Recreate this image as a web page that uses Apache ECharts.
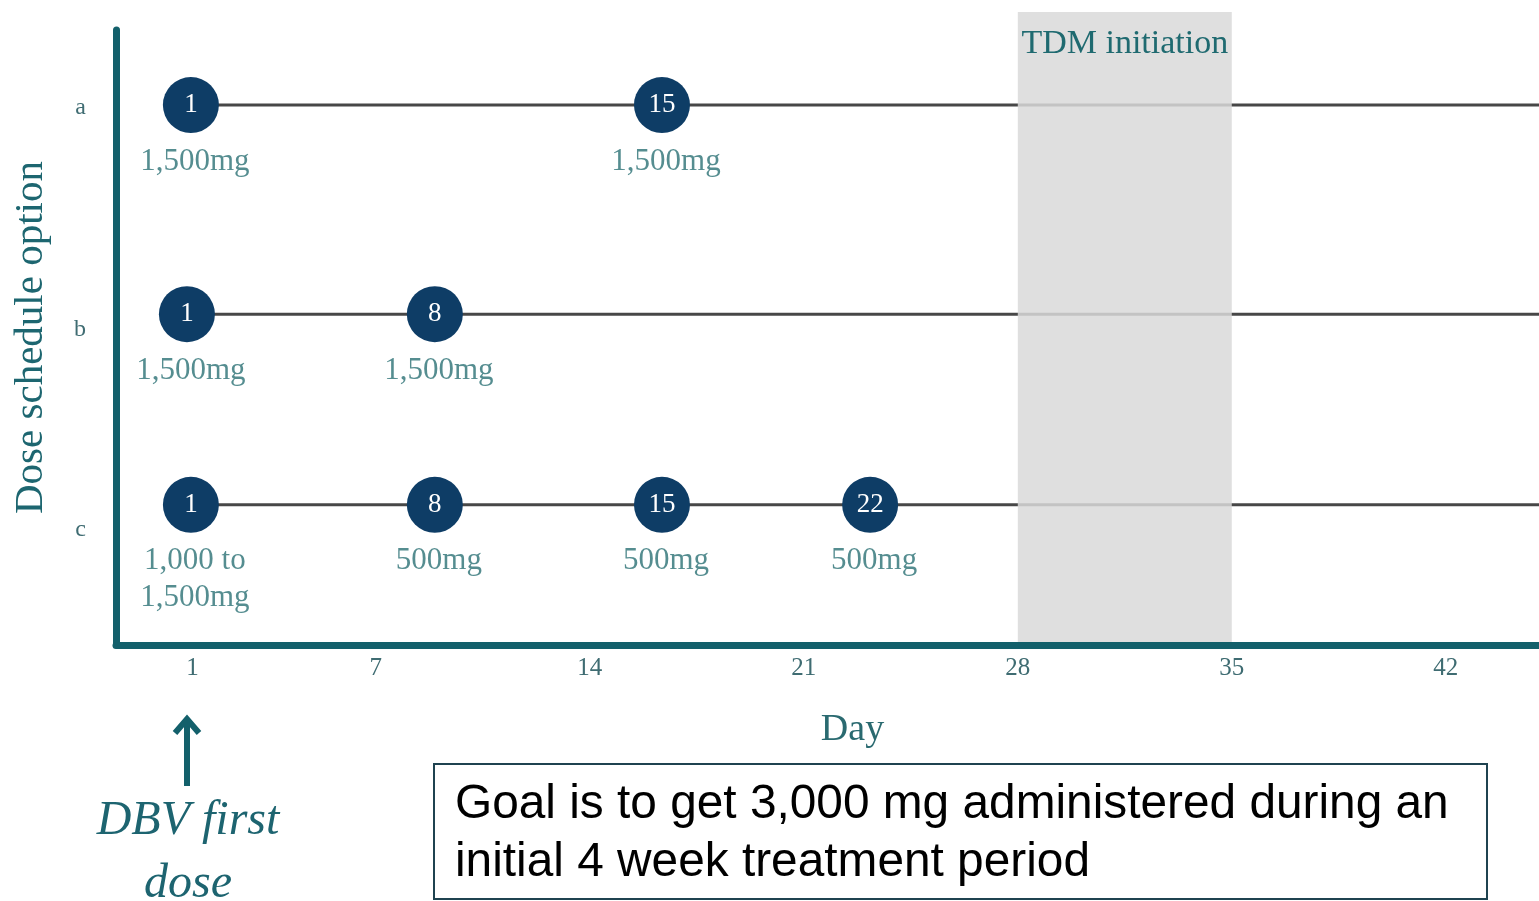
<!DOCTYPE html>
<html>
<head>
<meta charset="utf-8">
<script src="https://cdn.jsdelivr.net/npm/echarts@6/dist/echarts.min.js"></script>
<style>
html,body{margin:0;padding:0;background:#fff;}
#main{width:1539px;height:901px;}
</style>
</head>
<body>
<div id="main"></div>
<script>
// ---- data ----
const rowNames = ['a', 'b', 'c'];
const rowLevel = [12.2, 46.2, 77.2];          // level of each schedule line
const rowLabelLevel = [12.7, 48.8, 81.3];     // level of the a / b / c tick labels
const dayTicks = [1, 7, 14, 21, 28, 35, 42];
const tdmWindow = [28, 35];

const doseRow = [0, 0, 1, 1, 2, 2, 2, 2];
const doseDay = [1, 15, 1, 8, 1, 8, 15, 22];
const doseAt = [0.95, 16.36, 0.82, 8.93, 0.95, 8.93, 16.36, 23.17];   // plotted day position
const doseAmount = ['1,500mg', '1,500mg', '1,500mg', '1,500mg', '1,000 to\n1,500mg', '500mg', '500mg', '500mg'];

// ---- chart ----
const serif = '"Liberation Serif", "DejaVu Serif", serif';
const teal = '#13606b';
const textTeal = '#2b7074';
const xMin = -1.5, xMax = 45.05;
const topExtra = 18 / 615 * 100;

const points = doseAt.map((x, i) => [x, rowLevel[doseRow[i]]]);

const lineSeries = rowNames.map((r, ri) => {
  const first = Math.min(...doseAt.filter((x, i) => doseRow[i] === ri));
  return {
    type: 'line', xAxisIndex: 0, yAxisIndex: 0, silent: true, z: 1,
    symbol: 'none', data: [[first, rowLevel[ri]], [xMax, rowLevel[ri]]],
    lineStyle: { color: '#474747', width: 3 }
  };
});

const option = {
  backgroundColor: '#fff',
  animation: false,
  grid: [
    { left: 116, right: 0, top: 12, bottom: 256 },
    { left: 116, right: 0, top: 30, bottom: 256 }
  ],
  xAxis: [
    {
      gridIndex: 0, type: 'value', min: xMin, max: xMax, z: 10,
      axisLine: { show: true, onZero: false, lineStyle: { color: teal, width: 7 } },
      axisTick: { show: false }, splitLine: { show: false },
      axisLabel: { customValues: dayTicks, margin: 11, fontSize: 25, color: '#3f6c72', fontFamily: serif },
      name: 'Day', nameLocation: 'middle', nameGap: 66,
      nameTextStyle: { fontSize: 38, color: '#2a6a70', fontFamily: serif, padding: [0, 0, 0, 50] }
    },
    { gridIndex: 1, type: 'value', min: xMin, max: xMax, show: false }
  ],
  yAxis: [
    { gridIndex: 0, type: 'value', inverse: true, min: -topExtra, max: 100, show: false },
    {
      gridIndex: 1, type: 'value', inverse: true, min: 0, max: 100, z: 10,
      axisLine: { show: true, onZero: false, lineStyle: { color: teal, width: 7 } },
      axisTick: { show: false }, splitLine: { show: false },
      axisLabel: {
        customValues: rowLabelLevel, margin: 30, fontSize: 24, color: '#3f6c72', fontFamily: serif,
        formatter: v => rowNames[rowLabelLevel.indexOf(v)] || ''
      },
      name: 'Dose schedule option', nameLocation: 'middle', nameGap: 64, nameRotate: 90,
      nameTextStyle: { fontSize: 41, color: '#1d6670', fontFamily: serif }
    }
  ],
  series: [
    ...lineSeries,
    {
      type: 'line', xAxisIndex: 0, yAxisIndex: 0, data: [], z: 3, silent: true,
      markArea: {
        silent: true, z: 10,
        itemStyle: { color: '#d9d9d9', opacity: 0.85 },
        label: { show: true, position: 'insideTop', distance: 15, fontSize: 34, color: '#1f6a70', fontFamily: serif },
        data: [[{ name: 'TDM initiation', xAxis: tdmWindow[0] }, { xAxis: tdmWindow[1] }]]
      }
    },
    {
      type: 'scatter', xAxisIndex: 0, yAxisIndex: 0, z: 4, silent: true,
      symbolSize: 56, itemStyle: { color: 'rgba(0,0,0,0)' },
      data: points,
      label: {
        show: true, position: 'bottom', distance: 10, offset: [4, 0],
        formatter: p => doseAmount[p.dataIndex],
        fontSize: 31, lineHeight: 37, color: textTeal, fontFamily: serif
      }
    },
    {
      type: 'scatter', xAxisIndex: 0, yAxisIndex: 0, z: 5, silent: true,
      symbolSize: 56, itemStyle: { color: '#0e3d66', opacity: 1 },
      data: points,
      label: {
        show: true, position: 'inside',
        formatter: p => String(doseDay[p.dataIndex]),
        fontSize: 27, color: '#ffffff', fontFamily: serif
      }
    }
  ],
  graphic: [
    { type: 'polyline', shape: { points: [[175, 733], [187, 719], [199, 733]] },
      style: { stroke: teal, lineWidth: 6, fill: null, lineJoin: 'miter' } },
    { type: 'line', shape: { x1: 187, y1: 720, x2: 187, y2: 786 },
      style: { stroke: teal, lineWidth: 6 } },
    { type: 'text', x: 188, y: 790,
      style: { text: 'DBV first\ndose', font: 'italic 48px ' + serif, fill: '#1d6470',
               textAlign: 'center', textVerticalAlign: 'top', lineHeight: 63 } },
    { type: 'rect', shape: { x: 434, y: 764, width: 1053, height: 135 },
      style: { fill: null, stroke: '#1f4350', lineWidth: 2 } },
    { type: 'text', x: 455, y: 776,
      style: { text: 'Goal is to get 3,000 mg administered during an\ninitial 4 week treatment period',
               font: '47.8px "Liberation Sans", Arial, sans-serif', fill: '#000', lineHeight: 58,
               textAlign: 'left', textVerticalAlign: 'top' } }
  ]
};

const chart = echarts.init(document.getElementById('main'), null, { renderer: 'canvas' });
chart.setOption(option);
</script>
</body>
</html>
